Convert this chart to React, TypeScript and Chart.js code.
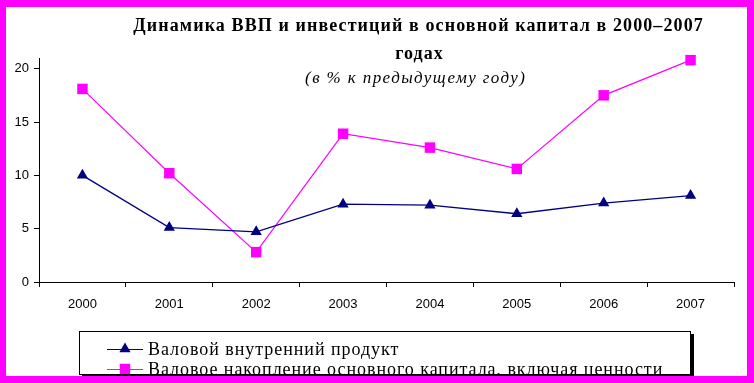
import React, { useEffect, useRef } from "react";
import { Chart, registerables } from "chart.js";

Chart.register(...registerables);

const years = ["2000", "2001", "2002", "2003", "2004", "2005", "2006", "2007"];
const gdp = [10.0, 5.1, 4.7, 7.3, 7.2, 6.4, 7.4, 8.1];
const investment = [18.1, 10.2, 2.8, 13.9, 12.6, 10.6, 17.5, 20.8];
const seriesNames = [
  "Валовой внутренний продукт",
  "Валовое накопление основного капитала, включая ценности",
];
const yTickValues = [0, 5, 10, 15, 20];
const titleLines = ["Динамика ВВП и инвестиций в основной капитал в 2000–2007", "годах"];
const subtitleText = "(в % к предыдущему году)";

const NAVY = "#000080";
const PINK = "#FF00FF";

function drawMarker(ctx: CanvasRenderingContext2D, style: string, x: number, y: number, r: number, color: string) {
  ctx.save();
  ctx.fillStyle = color;
  ctx.beginPath();
  if (style === "triangle") {
    const h = r * 1.5;
    const s = r * Math.sqrt(3);
    ctx.moveTo(x, y - r);
    ctx.lineTo(x + s / 2, y - r + h);
    ctx.lineTo(x - s / 2, y - r + h);
    ctx.closePath();
  } else {
    const s = r * Math.SQRT1_2;
    ctx.rect(x - s, y - s, 2 * s, 2 * s);
  }
  ctx.fill();
  ctx.restore();
}

function spacedText(ctx: any, text: string, x: number, y: number, spacing: number) {
  ctx.letterSpacing = spacing + "px";
  const w = ctx.measureText(text).width;
  const align = ctx.textAlign;
  if (align === "center") {
    ctx.textAlign = "left";
    ctx.fillText(text, x - (w - spacing) / 2, y);
    ctx.textAlign = "center";
  } else {
    ctx.fillText(text, x, y);
  }
  ctx.letterSpacing = "0px";
}

const decorPlugin = {
  id: "decor",
  beforeDraw(chart: any) {
    const ctx = chart.ctx;
    ctx.save();
    ctx.fillStyle = "#ffffff";
    ctx.fillRect(0, 0, chart.width, chart.height);
    ctx.restore();
  },
  afterDraw(chart: any) {
    const ctx: any = chart.ctx;
    const W = chart.width;
    const H = chart.height;
    ctx.save();
    // title
    ctx.fillStyle = "#000";
    ctx.textAlign = "center";
    ctx.textBaseline = "alphabetic";
    ctx.font = "bold 18px 'Liberation Serif', 'Times New Roman', serif";
    spacedText(ctx, titleLines[0], 418, 31, 1.1);
    spacedText(ctx, titleLines[1], 419, 59, 1.1);
    ctx.font = "italic 17px 'Liberation Serif', 'Times New Roman', serif";
    spacedText(ctx, subtitleText, 415, 83, 1.4);

    // legend box with shadow
    const bx = 79, by = 331, bw = 612, bh = 44;
    ctx.fillStyle = "#000";
    ctx.fillRect(bx + 3, by + 3, bw, bh);
    ctx.fillStyle = "#fff";
    ctx.fillRect(bx, by, bw, bh);
    ctx.strokeStyle = "#000";
    ctx.lineWidth = 1;
    ctx.strokeRect(bx + 0.5, by + 0.5, bw - 1, bh - 1);

    ctx.save();
    ctx.beginPath();
    ctx.rect(bx + 1, by + 1, bw - 2, bh - 2);
    ctx.clip();
    const ds = chart.data.datasets;
    const rowsY = [349, 369];
    ds.forEach((d: any, i: number) => {
      const y = rowsY[i];
      ctx.strokeStyle = d.borderColor;
      ctx.lineWidth = 1;
      ctx.beginPath();
      ctx.moveTo(107, y + 0.5);
      ctx.lineTo(143, y + 0.5);
      ctx.stroke();
      drawMarker(ctx, d.pointStyle, 125, y, d.pointRadius, d.pointBackgroundColor);
      ctx.fillStyle = "#000";
      ctx.textAlign = "left";
      ctx.font = "18px 'Liberation Serif', 'Times New Roman', serif";
      spacedText(ctx, d.label, 148, y + 6, 0.95);
    });
    ctx.restore();

    // magenta frame
    ctx.fillStyle = PINK;
    ctx.fillRect(0, 0, W, 7);
    ctx.fillRect(0, 376, W, H - 376);
    ctx.fillRect(0, 0, 6, H);
    ctx.fillRect(747, 0, W - 747, H);
    ctx.restore();
  },
};

export default function App() {
  const ref = useRef<HTMLCanvasElement>(null);
  useEffect(() => {
    if (!ref.current) return;
    const chart = new Chart(ref.current, {
      type: "line",
      data: {
        labels: years,
        datasets: [
          {
            label: seriesNames[0],
            data: gdp,
            borderColor: NAVY,
            backgroundColor: NAVY,
            pointBackgroundColor: NAVY,
            pointBorderColor: NAVY,
            pointStyle: "triangle",
            pointRadius: 6.5,
            pointBorderWidth: 0,
            borderWidth: 1.3,
            tension: 0,
            clip: false,
          },
          {
            label: seriesNames[1],
            data: investment,
            borderColor: PINK,
            backgroundColor: PINK,
            pointBackgroundColor: PINK,
            pointBorderColor: PINK,
            pointStyle: "rect",
            pointRadius: 7.4,
            pointBorderWidth: 0,
            borderWidth: 1.2,
            tension: 0,
            clip: false,
          },
        ],
      },
      options: {
        animation: false,
        responsive: false,
        devicePixelRatio: 1,
        layout: { padding: { top: 58, right: 20, bottom: 0, left: 0 } },
        plugins: {
          legend: { display: false },
          title: { display: false },
          tooltip: { enabled: false },
        },
        scales: {
          x: {
            offset: true,
            grid: { display: true, offset: true, drawOnChartArea: false, drawTicks: true, tickLength: 5, color: "#000" },
            border: { display: true, color: "#000", width: 1 },
            ticks: { color: "#000", font: { family: "'Liberation Sans', Arial, sans-serif", size: 13 }, padding: 10, maxRotation: 0 },
            afterFit: (s: any) => { s.height = 101; },
          },
          y: {
            min: 0,
            max: 21,
            grid: { display: true, drawOnChartArea: false, drawTicks: true, tickLength: 5, color: "#000" },
            border: { display: true, color: "#000", width: 1 },
            ticks: { stepSize: 5, color: "#000", font: { family: "'Liberation Sans', Arial, sans-serif", size: 13 }, padding: 5 },
            afterBuildTicks: (s: any) => { s.ticks = yTickValues.map((v) => ({ value: v })); },
            afterFit: (s: any) => { s.width = 39; },
          },
        },
      },
      plugins: [decorPlugin],
    });
    return () => chart.destroy();
  }, []);
  return (
    <div style={{ position: "fixed", left: 0, top: 0, width: 754, height: 383 }}>
      <canvas ref={ref} width={754} height={383} style={{ width: 754, height: 383, display: "block" }} />
    </div>
  );
}
